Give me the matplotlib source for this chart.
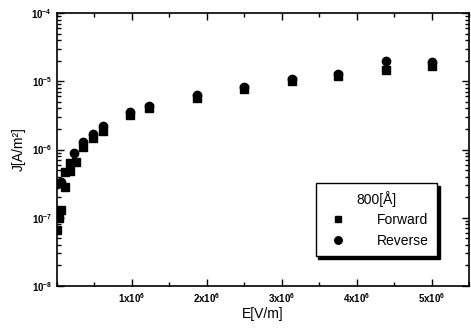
import matplotlib
matplotlib.use("Agg")
import matplotlib.pyplot as plt
from matplotlib.ticker import FixedLocator, MultipleLocator, LogLocator, NullFormatter

plt.rcParams["font.family"] = ["Liberation Sans", "DejaVu Sans"]
plt.rcParams["mathtext.fontset"] = "custom"
plt.rcParams["mathtext.rm"] = "Liberation Sans:bold"
plt.rcParams["mathtext.it"] = "Liberation Sans:bold"

# Forward bias (squares), E in V/m, J in A/m^2
fwd_E = [0.0, 0.03e6, 0.05e6, 0.11e6, 0.11e6, 0.17e6, 0.17e6, 0.25e6, 0.35e6, 0.48e6,
         0.61e6, 0.97e6, 1.23e6, 1.87e6, 2.49e6, 3.13e6, 3.75e6, 4.39e6, 5.01e6]
fwd_J = [6.6e-8, 1.0e-7, 1.3e-7, 2.8e-7, 4.7e-7, 4.9e-7, 6.3e-7, 6.6e-7, 1.09e-6, 1.48e-6,
         1.86e-6, 3.2e-6, 4.0e-6, 5.7e-6, 7.7e-6, 1.02e-5, 1.2e-5, 1.45e-5, 1.7e-5]

# Reverse bias (circles)
rev_E = [0.005e6, 0.06e6, 0.23e6, 0.35e6, 0.48e6, 0.61e6, 0.97e6, 1.23e6, 1.87e6,
         2.49e6, 3.13e6, 3.75e6, 4.39e6, 5.01e6]
rev_J = [3.1e-7, 3.3e-7, 8.9e-7, 1.29e-6, 1.7e-6, 2.2e-6, 3.5e-6, 4.4e-6, 6.2e-6,
         8.3e-6, 1.08e-5, 1.27e-5, 2.0e-5, 1.95e-5]

x_ticks = [1e6, 2e6, 3e6, 4e6, 5e6]
x_labels = [r"$%d\mathrm{x}10^{6}$" % k for k in range(1, 6)]
y_ticks = [1e-8, 1e-7, 1e-6, 1e-5, 1e-4]
y_labels = [r"$10^{-%d}$" % k for k in (8, 7, 6, 5, 4)]

fig = plt.figure(figsize=(4.71, 3.36), dpi=100)
ax = fig.add_axes([0.121, 0.149, 0.875, 0.812])

ax.plot(fwd_E, fwd_J, "s", color="black", markersize=5.5, label="Forward")
ax.plot(rev_E, rev_J, "o", color="black", markersize=6, label="Reverse")

ax.set_yscale("log")
ax.set_xlim(0, 5.5e6)
ax.set_ylim(1e-8, 1e-4)

ax.xaxis.set_major_locator(FixedLocator(x_ticks))
ax.set_xticklabels(x_labels)
ax.xaxis.set_minor_locator(MultipleLocator(0.5e6))
ax.yaxis.set_major_locator(FixedLocator(y_ticks))
ax.set_yticklabels(y_labels)
ax.yaxis.set_minor_locator(LogLocator(base=10, subs=range(2, 10)))
ax.yaxis.set_minor_formatter(NullFormatter())

ax.tick_params(which="both", direction="in", top=True, right=True, labelsize=7, width=1)
ax.tick_params(which="major", length=5)
ax.tick_params(which="minor", length=3)
for s in ax.spines.values():
    s.set_linewidth(1.2)

ax.set_xlabel("E[V/m]", fontsize=10, labelpad=2)
ax.set_ylabel("J[A/m²]", fontsize=10, labelpad=4)

leg = ax.legend(title="800[Å]", loc="lower right", bbox_to_anchor=(0.922, 0.11),
                fancybox=False, edgecolor="black", framealpha=1,
                shadow={"color": "black", "alpha": 1}, fontsize=10,
                title_fontsize=10, handletextpad=1.8, borderpad=0.6,
                labelspacing=0.45, borderaxespad=0, markerscale=0.9)
leg.get_frame().set_linewidth(1.0)

fig.savefig("out.png", dpi=100)
